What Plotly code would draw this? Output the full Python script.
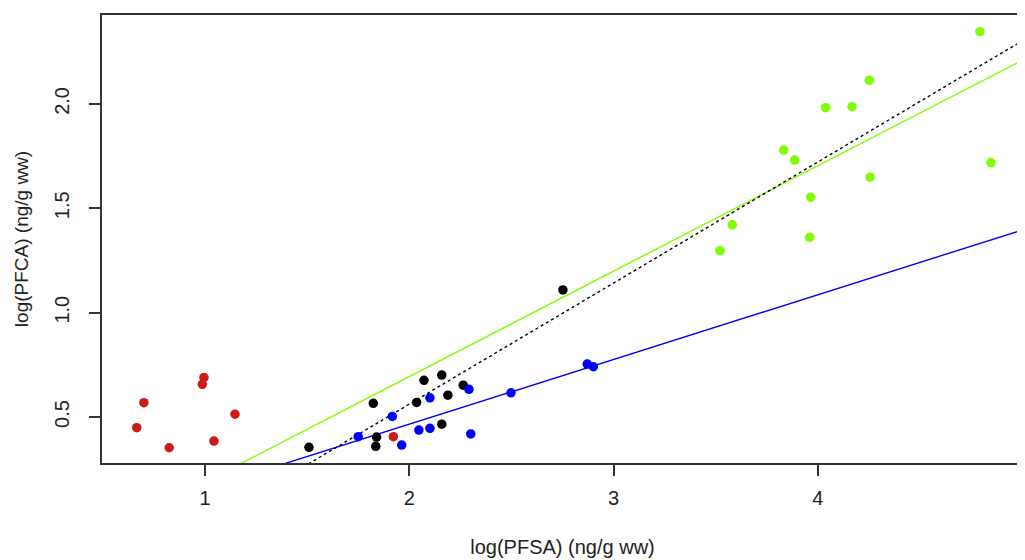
#!/usr/bin/env python3
import plotly.graph_objs as go

# points, log(PFSA) vs log(PFCA)
red_x = [0.666, 0.701, 0.825, 0.995, 0.987, 1.044, 1.147, 1.922]
red_y = [0.449, 0.569, 0.353, 0.690, 0.657, 0.385, 0.514, 0.406]

black_x = [1.509, 1.824, 1.840, 1.836, 2.036, 2.072, 2.159, 2.189, 2.159, 2.264, 2.752]
black_y = [0.355, 0.566, 0.404, 0.360, 0.570, 0.676, 0.701, 0.605, 0.466, 0.653, 1.109]

blue_x = [1.750, 1.917, 1.963, 2.047, 2.101, 2.101, 2.292, 2.301, 2.498, 2.871, 2.901]
blue_y = [0.406, 0.503, 0.366, 0.438, 0.446, 0.592, 0.633, 0.419, 0.616, 0.754, 0.741]

green_x = [4.793, 4.252, 4.038, 4.167, 3.833, 3.886, 4.847, 4.256, 3.965, 3.581, 3.960, 3.521]
green_y = [2.346, 2.113, 1.982, 1.987, 1.779, 1.731, 1.719, 1.649, 1.553, 1.421, 1.361, 1.297]

# fitted lines (intercept, slope)
green_fit = (-0.316, 0.505)
blue_fit = (-0.154, 0.310)
black_fit = (-0.598, 0.580)

x_ticks = [1, 2, 3, 4, 5]
y_ticks = [0.5, 1.0, 1.5, 2.0]

X_RANGE = [0.496, 5.004]
Y_RANGE = [0.280, 2.426]

RED = '#CD1A1A'
GREEN = '#7FFF00'
BLUE = '#0000FF'
BLACK = '#000000'
FONT = 'Liberation Sans'

# the page body has an 8px margin, so the figure is drawn 8px in from the corner
PAGE_OFFSET = 8


def fit_line(fit, color, dash):
    a, b = fit
    xs = X_RANGE
    ys = [a + b * x for x in xs]
    return go.Scatter(x=xs, y=ys, mode='lines', line=dict(color=color, width=1.4, dash=dash),
                      showlegend=False, hoverinfo='skip')


def points(xs, ys, color):
    return go.Scatter(x=xs, y=ys, mode='markers', marker=dict(color=color, size=9.5),
                      showlegend=False)


data = [
    fit_line(green_fit, GREEN, 'solid'),
    fit_line(blue_fit, BLUE, 'solid'),
    fit_line(black_fit, BLACK, 'dot'),
    points(red_x, red_y, RED),
    points(black_x, black_y, BLACK),
    points(blue_x, blue_y, BLUE),
    points(green_x, green_y, GREEN),
]

axis_style = dict(
    showgrid=False, zeroline=False, showline=True, mirror=True, automargin=False,
    linecolor='#333333', linewidth=1.5,
    ticks='outside', ticklen=11, tickwidth=1.5, tickcolor='#333333',
    ticklabeloverflow='allow',
    tickfont=dict(family=FONT, size=20, color='#222222'),
)

layout = go.Layout(
    width=1025 - PAGE_OFFSET, height=560 - PAGE_OFFSET,
    margin=dict(l=102 - PAGE_OFFSET, r=2, t=15 - PAGE_OFFSET, b=97),
    paper_bgcolor='white', plot_bgcolor='white',
    font=dict(family=FONT, size=20, color='#222222'),
    xaxis=dict(range=X_RANGE, tickvals=x_ticks, ticktext=[str(v) for v in x_ticks],
               ticklabelstandoff=5,
               title=dict(text='log(PFSA) (ng/g ww)', standoff=32,
                          font=dict(family=FONT, size=20, color='#222222')),
               **axis_style),
    yaxis=dict(range=Y_RANGE, tickvals=y_ticks, ticktext=[f'{v:.1f}' for v in y_ticks],
               tickangle=-90, ticklabelstandoff=12,
               title=dict(text='log(PFCA) (ng/g ww)', standoff=18,
                          font=dict(family=FONT, size=19, color='#222222')),
               **axis_style),
)

fig = go.Figure(data=data, layout=layout)
fig.write_html('out.html')
